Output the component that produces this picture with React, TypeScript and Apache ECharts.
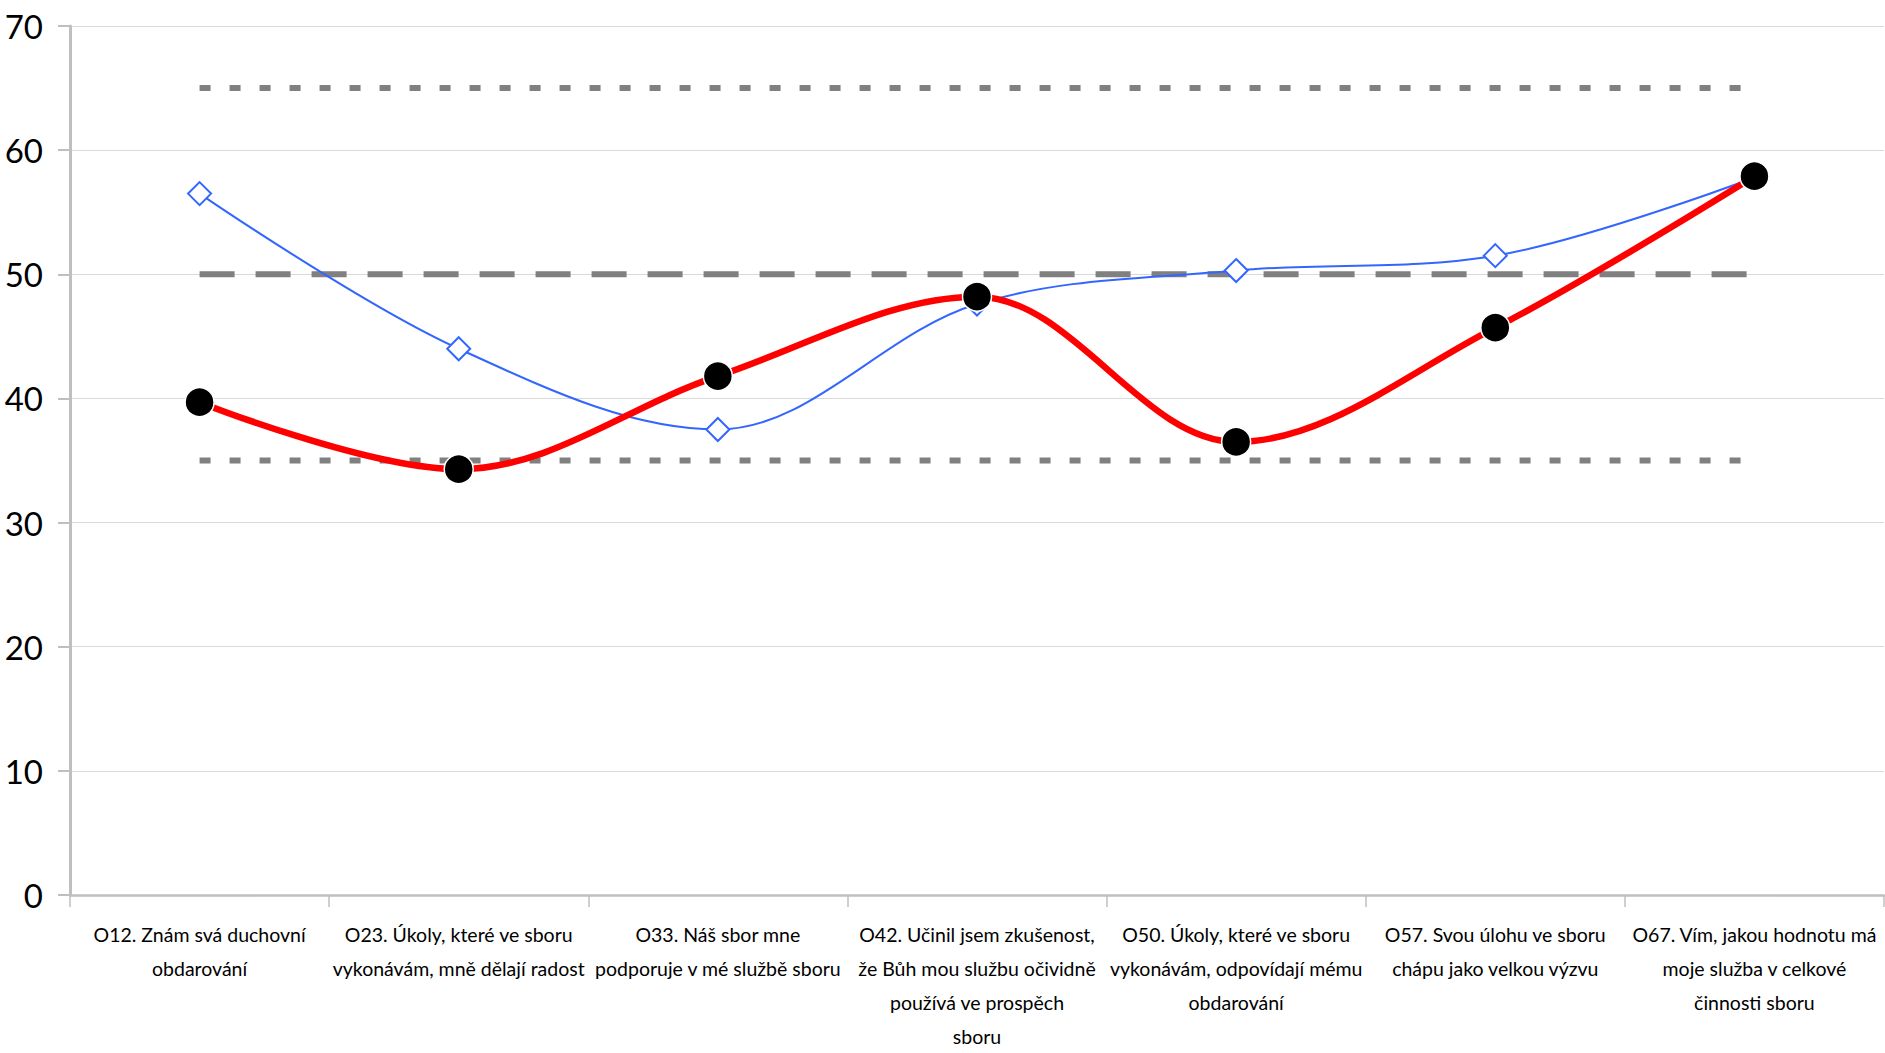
import React, { useEffect, useRef } from "react";
import * as echarts from "echarts";

const categories = [
  "O12. Znám svá duchovní\nobdarování",
  "O23. Úkoly, které ve sboru\nvykonávám, mně dělají radost",
  "O33. Náš sbor mne\npodporuje v mé službě sboru",
  "O42. Učinil jsem zkušenost,\nže Bůh mou službu očividně\npoužívá ve prospěch\nsboru",
  "O50. Úkoly, které ve sboru\nvykonávám, odpovídají mému\nobdarování",
  "O57. Svou úlohu ve sboru\nchápu jako velkou výzvu",
  "O67. Vím, jakou hodnotu má\nmoje služba v celkové\nčinnosti sboru",
];

const redValues = [39.7, 34.3, 41.8, 48.2, 36.5, 45.7, 57.9];
const blueValues = [56.5, 44.0, 37.5, 47.6, 50.3, 51.5, 57.8];
const upperRef = [65, 65, 65, 65, 65, 65, 65];
const midRef = [50, 50, 50, 50, 50, 50, 50];
const lowerRef = [35, 35, 35, 35, 35, 35, 35];

const FONT = "Lato";

export default function App() {
  const ref = useRef<HTMLDivElement>(null);

  useEffect(() => {
    document.body.style.margin = "0";
    const chart = echarts.init(ref.current!, null, { renderer: "svg" });
    const refLine = (name: string, data: number[], type: number[], width: number) => ({
      name,
      type: "line",
      data,
      symbol: "none",
      silent: true,
      lineStyle: { color: "#808080", width, type, cap: "butt" },
      z: 1,
    });
    chart.setOption({
      animation: false,
      backgroundColor: "#ffffff",
      grid: { left: 70, right: 1, top: 26, bottom: 149, containLabel: false },
      xAxis: {
        type: "category",
        data: categories,
        boundaryGap: true,
        axisLine: { show: true, lineStyle: { color: "#bfbfbf", width: 2.5 } },
        axisTick: { show: true, length: 12, alignWithLabel: false, lineStyle: { color: "#bfbfbf", width: 1.5 } },
        axisLabel: {
          interval: 0,
          margin: 22,
          color: "#000000",
          fontFamily: FONT,
          fontSize: 19.5,
          lineHeight: 34,
          align: "center",
        },
        splitLine: { show: false },
      },
      yAxis: {
        type: "value",
        min: 0,
        max: 70,
        interval: 10,
        axisLine: { show: true, lineStyle: { color: "#bfbfbf", width: 3 } },
        axisTick: { show: true, length: 12, lineStyle: { color: "#bfbfbf", width: 2 } },
        axisLabel: { color: "#000000", fontFamily: FONT, fontSize: 33, margin: 27 },
        splitLine: { show: true, lineStyle: { color: "#d9d9d9", width: 1 } },
      },
      series: [
        refLine("Horní mez", upperRef, [11, 19], 6),
        refLine("Průměr", midRef, [35, 21], 6),
        refLine("Dolní mez", lowerRef, [11, 19], 6),
        {
          name: "Srovnání",
          type: "line",
          data: blueValues,
          smooth: 0.35,
          symbol: "diamond",
          symbolSize: 23,
          lineStyle: { color: "#3366ff", width: 2 },
          itemStyle: { color: "#ffffff", borderColor: "#3366ff", borderWidth: 2 },
          z: 2,
        },
        {
          name: "Výsledek",
          type: "line",
          data: redValues,
          smooth: 0.35,
          symbol: "circle",
          symbolSize: 29,
          lineStyle: { color: "#ff0000", width: 6.5 },
          itemStyle: { color: "#000000", borderColor: "#ffffff", borderWidth: 1.5 },
          z: 3,
        },
      ],
    });
    return () => chart.dispose();
  }, []);

  return (
    <div
      ref={ref}
      style={{ position: "absolute", left: 0, top: 0, width: "1885px", height: "1053px" }}
    />
  );
}
